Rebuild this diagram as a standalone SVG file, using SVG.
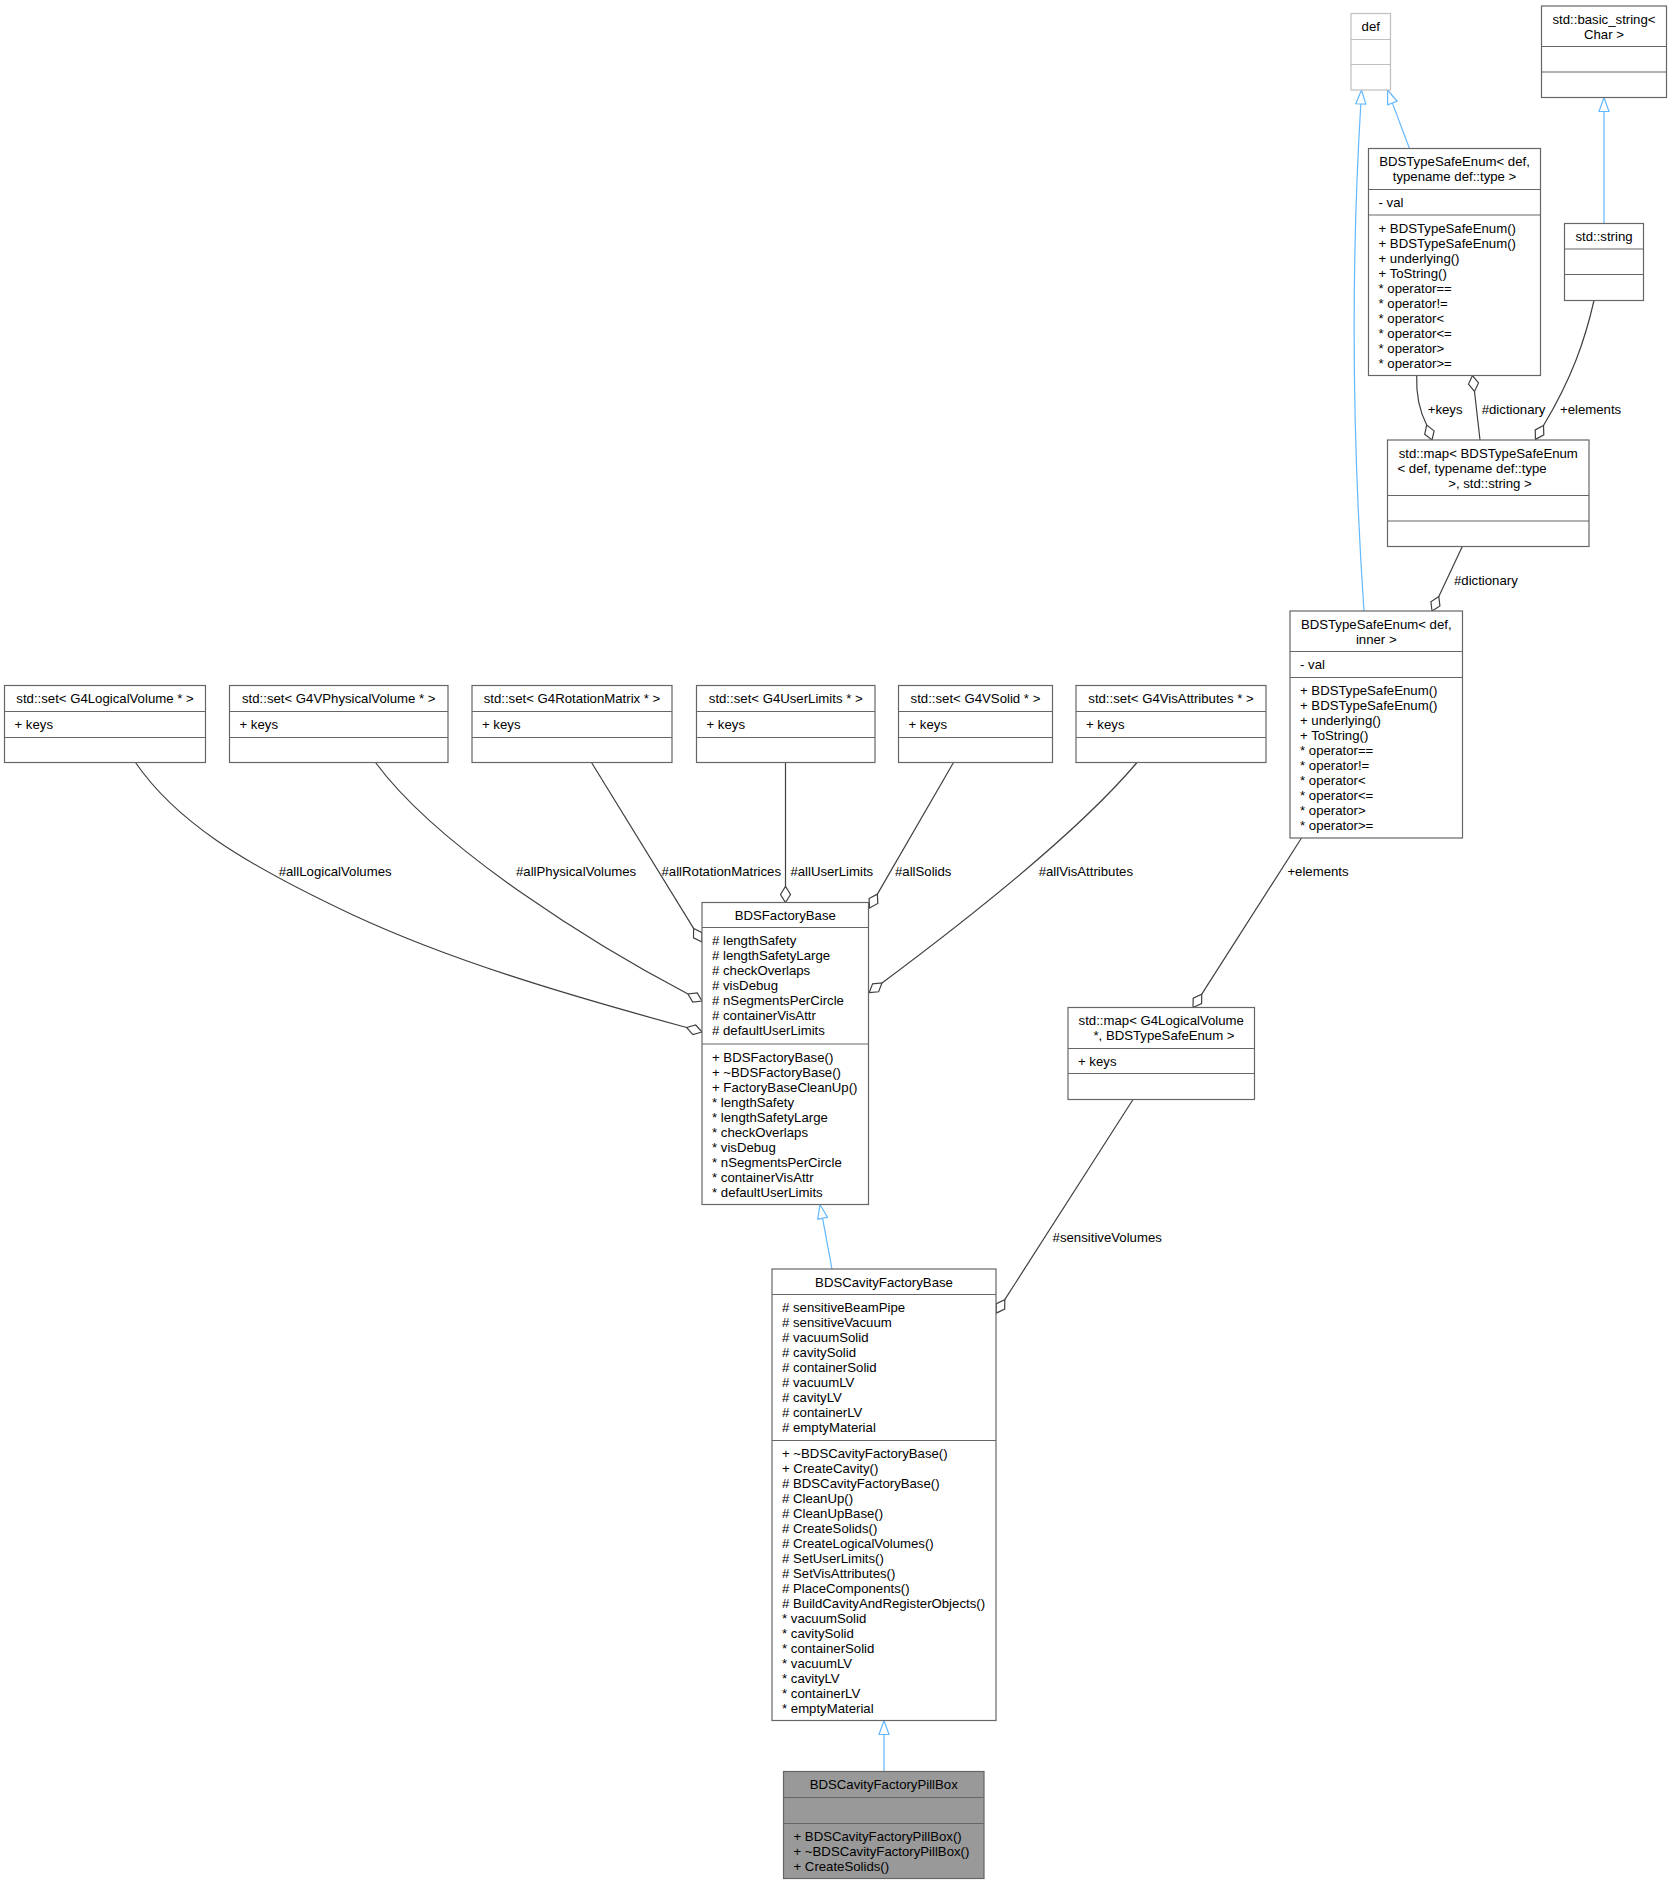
<svg xmlns="http://www.w3.org/2000/svg" width="1672" height="1885" viewBox="0 0 1672 1885">
<style>
text{font-family:"Liberation Sans",Arial,Helvetica,sans-serif;font-size:13.2px;fill:#000}
.c{text-anchor:middle}
.box{fill:#fff;stroke:#666;stroke-width:1.2}
.ln{stroke:#666;stroke-width:1.2}
.ubox{fill:#fff;stroke:#bfbfbf;stroke-width:1.2}
.uln{stroke:#bfbfbf;stroke-width:1.2}
.cur{fill:#999;stroke:#666;stroke-width:1.2}
.inh{fill:none;stroke:#63b8ff;stroke-width:1.2}
.inhh{fill:#fff;stroke:#63b8ff;stroke-width:1.2}
.agg{fill:none;stroke:#404040;stroke-width:1.2}
.aggh{fill:#fff;stroke:#404040;stroke-width:1.2}
</style>
<rect x="0" y="0" width="1672" height="1885" fill="#fff"/>

<g id="edges">
  <!-- inheritance -->
  <path class="inh" d="M1409.5,148.5 L1392.4,103.1"/>
  <polygon class="inhh" points="1387.5,90 1397.1,101.3 1387.7,104.9"/>
  <path class="inh" d="M1364,611 C1355,480 1349,300 1360.8,104"/>
  <polygon class="inhh" points="1361.5,90 1365.8,104.2 1355.8,103.8"/>
  <path class="inh" d="M1604,223.5 L1604,111.5"/>
  <polygon class="inhh" points="1604,97.5 1609,111.5 1599,111.5"/>
  <path class="inh" d="M832,1269 L822.6,1218.3"/>
  <polygon class="inhh" points="820,1204.5 827.5,1217.4 817.7,1219.2"/>
  <path class="inh" d="M884,1771.5 L884,1734.5"/>
  <polygon class="inhh" points="884,1720.5 889,1734.5 879,1734.5"/>

  <!-- aggregation -->
  <path class="agg" d="M135.5,762.5 C175,820 240,862 353,915 C450,960 560,993 686.6,1027.5"/>
  <polygon class="aggh" points="702,1032 695.7,1025 686.6,1027.5 692.9,1034.6"/>
  <text x="278.7" y="876">#allLogicalVolumes</text>

  <path class="agg" d="M375.5,762.5 C440,850 600,948 688,994"/>
  <polygon class="aggh" points="702,1001 697.3,993 688,994 692.7,1002"/>
  <text x="516" y="876">#allPhysicalVolumes</text>

  <path class="agg" d="M591.5,762.5 L693.6,928.4"/>
  <polygon class="aggh" points="702,942 702.1,932.6 693.6,928.4 693.5,937.8"/>
  <text x="661.5" y="876">#allRotationMatrices</text>

  <path class="agg" d="M785.5,762.5 L785.5,886.5"/>
  <polygon class="aggh" points="785.5,902.5 790.5,894.5 785.5,886.5 780.5,894.5"/>
  <text x="790.4" y="876">#allUserLimits</text>

  <path class="agg" d="M953.5,762.5 L877.4,894.1"/>
  <polygon class="aggh" points="869.5,908 877.8,903.5 877.4,894.1 869.1,898.5"/>
  <text x="895" y="876">#allSolids</text>

  <path class="agg" d="M1137,762.5 C1080,830 980,910 882,983"/>
  <polygon class="aggh" points="869.2,992.6 878.6,991.8 882,983 872.6,983.8"/>
  <text x="1038.7" y="876">#allVisAttributes</text>

  <path class="agg" d="M1301.5,838 L1201.75,994.1"/>
  <polygon class="aggh" points="1193,1007.5 1201.6,1003.5 1201.75,994.1 1193.2,998.1"/>
  <text x="1287.4" y="876">+elements</text>

  <path class="agg" d="M1133,1099.5 L1004.8,1299.6"/>
  <polygon class="aggh" points="996.2,1313.1 1004.7,1309.1 1004.8,1299.6 996.3,1303.7"/>
  <text x="1052.6" y="1242">#sensitiveVolumes</text>

  <path class="agg" d="M1462.3,546.5 L1438.8,596.5"/>
  <polygon class="aggh" points="1432,611 1439.9,605.9 1438.8,596.5 1430.9,601.7"/>
  <text x="1454" y="584.5">#dictionary</text>

  <path class="agg" d="M1416.7,375.5 C1416,395 1419,410 1426.7,425"/>
  <polygon class="aggh" points="1432,440 1434.1,430.9 1426.7,425 1424.7,434.2"/>
  <text x="1427.7" y="413.5">+keys</text>

  <path class="agg" d="M1480,440 L1474.5,391.5"/>
  <polygon class="aggh" points="1472.5,375.5 1468.5,384.1 1474.5,391.5 1478.5,382.9"/>
  <text x="1481.7" y="413.5">#dictionary</text>

  <path class="agg" d="M1594,300.5 C1585,340 1572,378 1543.5,425.5"/>
  <polygon class="aggh" points="1535.5,439.4 1543.8,434.9 1543.5,425.5 1535.2,429.9"/>
  <text x="1560" y="413.5">+elements</text>
</g>

<g id="node-def">
  <rect class="ubox" x="1351" y="13.5" width="39.5" height="76.5"/>
  <line class="uln" x1="1351" y1="39.5" x2="1390.5" y2="39.5"/>
  <line class="uln" x1="1351" y1="64.5" x2="1390.5" y2="64.5"/>
  <text class="c" x="1370.75" y="31">def</text>
</g>

<g id="node-basic_string">
  <rect class="box" x="1541.5" y="6" width="125" height="91.5"/>
  <line class="ln" x1="1541.5" y1="46.5" x2="1666.5" y2="46.5"/>
  <line class="ln" x1="1541.5" y1="72" x2="1666.5" y2="72"/>
  <text class="c" x="1604" y="23.5">std::basic_string&lt;</text>
  <text class="c" x="1604" y="38.5">Char &gt;</text>
</g>

<g id="node-tse-typename">
  <rect class="box" x="1368.5" y="148.5" width="172" height="227"/>
  <line class="ln" x1="1368.5" y1="189.5" x2="1540.5" y2="189.5"/>
  <line class="ln" x1="1368.5" y1="215" x2="1540.5" y2="215"/>
  <text class="c" x="1454.5" y="166">BDSTypeSafeEnum&lt; def,</text>
  <text class="c" x="1454.5" y="181">typename def::type &gt;</text>
  <text x="1378.5" y="207">- val</text>
  <text x="1378.5" y="232.5">+ BDSTypeSafeEnum()</text>
  <text x="1378.5" y="247.5">+ BDSTypeSafeEnum()</text>
  <text x="1378.5" y="262.5">+ underlying()</text>
  <text x="1378.5" y="277.5">+ ToString()</text>
  <text x="1378.5" y="292.5">* operator==</text>
  <text x="1378.5" y="307.5">* operator!=</text>
  <text x="1378.5" y="322.5">* operator&lt;</text>
  <text x="1378.5" y="337.5">* operator&lt;=</text>
  <text x="1378.5" y="352.5">* operator&gt;</text>
  <text x="1378.5" y="367.5">* operator&gt;=</text>
</g>

<g id="node-std-string">
  <rect class="box" x="1564.5" y="223.5" width="79" height="77"/>
  <line class="ln" x1="1564.5" y1="249" x2="1643.5" y2="249"/>
  <line class="ln" x1="1564.5" y1="274.5" x2="1643.5" y2="274.5"/>
  <text class="c" x="1604" y="241">std::string</text>
</g>

<g id="node-map-tse">
  <rect class="box" x="1387.5" y="440" width="201.5" height="106.5"/>
  <line class="ln" x1="1387.5" y1="495.5" x2="1589" y2="495.5"/>
  <line class="ln" x1="1387.5" y1="521" x2="1589" y2="521"/>
  <text class="c" x="1488.25" y="457.5">std::map&lt; BDSTypeSafeEnum</text>
  <text x="1397.5" y="472.5">&lt; def, typename def::type</text>
  <text class="c" x="1490" y="487.5">&gt;, std::string &gt;</text>
</g>

<g id="node-tse-inner">
  <rect class="box" x="1290" y="611" width="172.5" height="227"/>
  <line class="ln" x1="1290" y1="651.5" x2="1462.5" y2="651.5"/>
  <line class="ln" x1="1290" y1="677.5" x2="1462.5" y2="677.5"/>
  <text class="c" x="1376.25" y="628.5">BDSTypeSafeEnum&lt; def,</text>
  <text class="c" x="1376.25" y="643.5">inner &gt;</text>
  <text x="1300" y="669">- val</text>
  <text x="1300" y="695">+ BDSTypeSafeEnum()</text>
  <text x="1300" y="710">+ BDSTypeSafeEnum()</text>
  <text x="1300" y="725">+ underlying()</text>
  <text x="1300" y="740">+ ToString()</text>
  <text x="1300" y="755">* operator==</text>
  <text x="1300" y="770">* operator!=</text>
  <text x="1300" y="785">* operator&lt;</text>
  <text x="1300" y="800">* operator&lt;=</text>
  <text x="1300" y="815">* operator&gt;</text>
  <text x="1300" y="830">* operator&gt;=</text>
</g>

<g id="node-set-lv">
  <rect class="box" x="4.5" y="685.5" width="201" height="77"/>
  <line class="ln" x1="4.5" y1="711.5" x2="205.5" y2="711.5"/>
  <line class="ln" x1="4.5" y1="737.5" x2="205.5" y2="737.5"/>
  <text class="c" x="105" y="703">std::set&lt; G4LogicalVolume * &gt;</text>
  <text x="14.5" y="729">+ keys</text>
</g>

<g id="node-set-pv">
  <rect class="box" x="229.5" y="685.5" width="218.5" height="77"/>
  <line class="ln" x1="229.5" y1="711.5" x2="448" y2="711.5"/>
  <line class="ln" x1="229.5" y1="737.5" x2="448" y2="737.5"/>
  <text class="c" x="338.75" y="703">std::set&lt; G4VPhysicalVolume * &gt;</text>
  <text x="239.5" y="729">+ keys</text>
</g>

<g id="node-set-rm">
  <rect class="box" x="472" y="685.5" width="200" height="77"/>
  <line class="ln" x1="472" y1="711.5" x2="672" y2="711.5"/>
  <line class="ln" x1="472" y1="737.5" x2="672" y2="737.5"/>
  <text class="c" x="572" y="703">std::set&lt; G4RotationMatrix * &gt;</text>
  <text x="482" y="729">+ keys</text>
</g>

<g id="node-set-ul">
  <rect class="box" x="696.5" y="685.5" width="178.5" height="77"/>
  <line class="ln" x1="696.5" y1="711.5" x2="875" y2="711.5"/>
  <line class="ln" x1="696.5" y1="737.5" x2="875" y2="737.5"/>
  <text class="c" x="785.75" y="703">std::set&lt; G4UserLimits * &gt;</text>
  <text x="706.5" y="729">+ keys</text>
</g>

<g id="node-set-solid">
  <rect class="box" x="898.5" y="685.5" width="154" height="77"/>
  <line class="ln" x1="898.5" y1="711.5" x2="1052.5" y2="711.5"/>
  <line class="ln" x1="898.5" y1="737.5" x2="1052.5" y2="737.5"/>
  <text class="c" x="975.5" y="703">std::set&lt; G4VSolid * &gt;</text>
  <text x="908.5" y="729">+ keys</text>
</g>

<g id="node-set-vis">
  <rect class="box" x="1076" y="685.5" width="190" height="77"/>
  <line class="ln" x1="1076" y1="711.5" x2="1266" y2="711.5"/>
  <line class="ln" x1="1076" y1="737.5" x2="1266" y2="737.5"/>
  <text class="c" x="1171" y="703">std::set&lt; G4VisAttributes * &gt;</text>
  <text x="1086" y="729">+ keys</text>
</g>

<g id="node-factorybase">
  <rect class="box" x="702" y="902.5" width="166.5" height="302"/>
  <line class="ln" x1="702" y1="927.5" x2="868.5" y2="927.5"/>
  <line class="ln" x1="702" y1="1044" x2="868.5" y2="1044"/>
  <text class="c" x="785.25" y="920">BDSFactoryBase</text>
  <text x="712" y="945"># lengthSafety</text>
  <text x="712" y="960"># lengthSafetyLarge</text>
  <text x="712" y="975"># checkOverlaps</text>
  <text x="712" y="990"># visDebug</text>
  <text x="712" y="1005"># nSegmentsPerCircle</text>
  <text x="712" y="1020"># containerVisAttr</text>
  <text x="712" y="1035"># defaultUserLimits</text>
  <text x="712" y="1061.5">+ BDSFactoryBase()</text>
  <text x="712" y="1076.5">+ ~BDSFactoryBase()</text>
  <text x="712" y="1091.5">+ FactoryBaseCleanUp()</text>
  <text x="712" y="1106.5">* lengthSafety</text>
  <text x="712" y="1121.5">* lengthSafetyLarge</text>
  <text x="712" y="1136.5">* checkOverlaps</text>
  <text x="712" y="1151.5">* visDebug</text>
  <text x="712" y="1166.5">* nSegmentsPerCircle</text>
  <text x="712" y="1181.5">* containerVisAttr</text>
  <text x="712" y="1196.5">* defaultUserLimits</text>
</g>

<g id="node-map-lv">
  <rect class="box" x="1068" y="1007.5" width="186.5" height="92"/>
  <line class="ln" x1="1068" y1="1048.5" x2="1254.5" y2="1048.5"/>
  <line class="ln" x1="1068" y1="1073.5" x2="1254.5" y2="1073.5"/>
  <text class="c" x="1161.25" y="1025">std::map&lt; G4LogicalVolume</text>
  <text class="c" x="1164" y="1040">*, BDSTypeSafeEnum &gt;</text>
  <text x="1078" y="1066">+ keys</text>
</g>

<g id="node-cavityfactorybase">
  <rect class="box" x="772" y="1269" width="224" height="451.5"/>
  <line class="ln" x1="772" y1="1294.5" x2="996" y2="1294.5"/>
  <line class="ln" x1="772" y1="1440.5" x2="996" y2="1440.5"/>
  <text class="c" x="884" y="1286.5">BDSCavityFactoryBase</text>
  <text x="782" y="1312"># sensitiveBeamPipe</text>
  <text x="782" y="1327"># sensitiveVacuum</text>
  <text x="782" y="1342"># vacuumSolid</text>
  <text x="782" y="1357"># cavitySolid</text>
  <text x="782" y="1372"># containerSolid</text>
  <text x="782" y="1387"># vacuumLV</text>
  <text x="782" y="1402"># cavityLV</text>
  <text x="782" y="1417"># containerLV</text>
  <text x="782" y="1432"># emptyMaterial</text>
  <text x="782" y="1458">+ ~BDSCavityFactoryBase()</text>
  <text x="782" y="1473">+ CreateCavity()</text>
  <text x="782" y="1488"># BDSCavityFactoryBase()</text>
  <text x="782" y="1503"># CleanUp()</text>
  <text x="782" y="1518"># CleanUpBase()</text>
  <text x="782" y="1533"># CreateSolids()</text>
  <text x="782" y="1548"># CreateLogicalVolumes()</text>
  <text x="782" y="1563"># SetUserLimits()</text>
  <text x="782" y="1578"># SetVisAttributes()</text>
  <text x="782" y="1593"># PlaceComponents()</text>
  <text x="782" y="1608"># BuildCavityAndRegisterObjects()</text>
  <text x="782" y="1623">* vacuumSolid</text>
  <text x="782" y="1638">* cavitySolid</text>
  <text x="782" y="1653">* containerSolid</text>
  <text x="782" y="1668">* vacuumLV</text>
  <text x="782" y="1683">* cavityLV</text>
  <text x="782" y="1698">* containerLV</text>
  <text x="782" y="1713">* emptyMaterial</text>
</g>

<g id="node-pillbox">
  <rect class="cur" x="783.5" y="1771.5" width="200.5" height="107"/>
  <line class="ln" x1="783.5" y1="1797.5" x2="984" y2="1797.5"/>
  <line class="ln" x1="783.5" y1="1823.5" x2="984" y2="1823.5"/>
  <text class="c" x="883.75" y="1789">BDSCavityFactoryPillBox</text>
  <text x="793.5" y="1841">+ BDSCavityFactoryPillBox()</text>
  <text x="793.5" y="1856">+ ~BDSCavityFactoryPillBox()</text>
  <text x="793.5" y="1871">+ CreateSolids()</text>
</g>
</svg>
